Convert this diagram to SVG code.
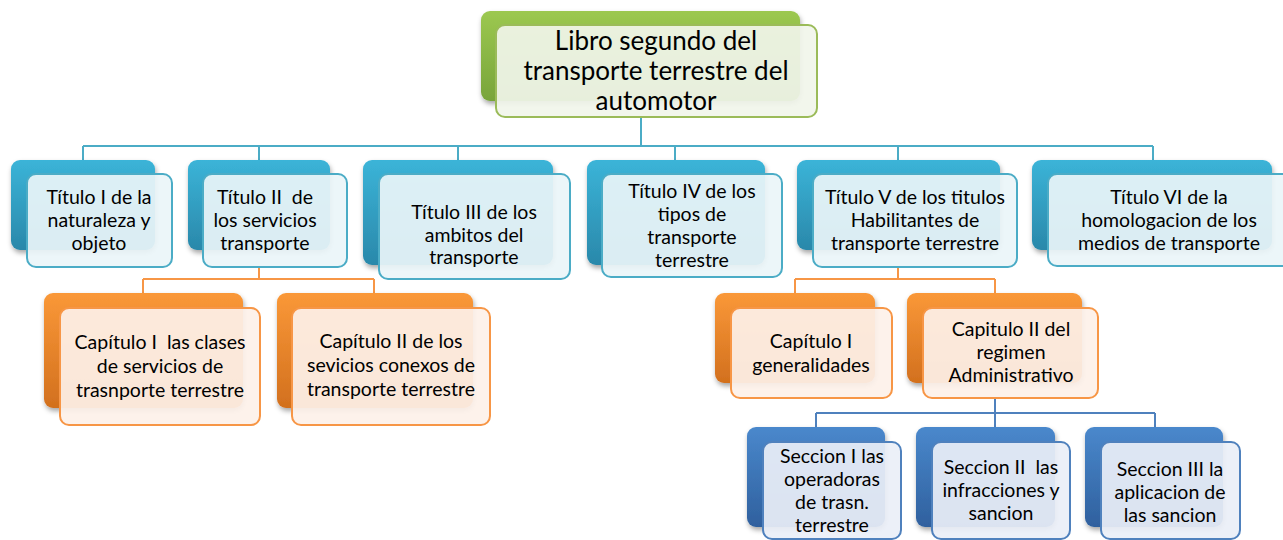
<svg xmlns="http://www.w3.org/2000/svg" width="1283" height="540" viewBox="0 0 1283 540">
<style>
  .t { font-family: Lato, "Liberation Sans", sans-serif; font-size: 19.5px; fill: #000; text-anchor: middle; white-space: pre; }
  .big { font-size: 26px; }
  .cb { fill: none; stroke: #4BACC6; stroke-width: 2; }
  .co { fill: none; stroke: #F79646; stroke-width: 2; }
  .cd { fill: none; stroke: #4F81BD; stroke-width: 2; }
  .bg { fill: url(#gGreen); filter: url(#sh); }
  .bb { fill: url(#gBlue); filter: url(#sh); }
  .bo { fill: url(#gOrange); filter: url(#sh); }
  .bd { fill: url(#gDark); filter: url(#sh); }
  .fg { fill: #F1F5EA; fill-opacity: 0.92; stroke: #9BBB59; stroke-width: 2; }
  .fb { fill: #EAF5F9; fill-opacity: 0.92; stroke: #4BACC6; stroke-width: 2; }
  .fo { fill: #FDF1E9; fill-opacity: 0.92; stroke: #F79646; stroke-width: 2; }
  .fd { fill: #EAEFF7; fill-opacity: 0.92; stroke: #4F81BD; stroke-width: 2; }
</style>
<defs>
  <linearGradient id="gGreen" x1="0" y1="0" x2="0" y2="1">
    <stop offset="0" stop-color="#9CC850"/><stop offset="1" stop-color="#78A43A"/>
  </linearGradient>
  <linearGradient id="gBlue" x1="0" y1="0" x2="0" y2="1">
    <stop offset="0" stop-color="#3BB4D8"/><stop offset="1" stop-color="#2A88AA"/>
  </linearGradient>
  <linearGradient id="gOrange" x1="0" y1="0" x2="0" y2="1">
    <stop offset="0" stop-color="#FA9838"/><stop offset="1" stop-color="#D2701E"/>
  </linearGradient>
  <linearGradient id="gDark" x1="0" y1="0" x2="0" y2="1">
    <stop offset="0" stop-color="#4A88CC"/><stop offset="1" stop-color="#2F609E"/>
  </linearGradient>
  <filter id="sh" x="-10%" y="-10%" width="130%" height="140%">
    <feDropShadow dx="1" dy="3" stdDeviation="2.5" flood-color="#000" flood-opacity="0.35"/>
  </filter>
</defs>

<g id="connectors">
  <path class="cb" d="M641 117 V146 M83 146 H1153 M83 146 V160 M259 146 V160 M458 146 V160 M675 146 V160 M898 146 V160 M1153 146 V160"/>
  <path class="co" d="M259 267 V279 M143 279 H374 M143 279 V293 M374 279 V293"/>
  <path class="co" d="M898 267 V279 M795 279 H995 M795 279 V293 M995 279 V293"/>
  <path class="cd" d="M995 398 V413 M816 413 H1155 M816 413 V427 M995 413 V427 M1155 413 V427"/>
</g>

<g id="root">
  <rect class="bg" x="481" y="11" width="319" height="90" rx="9"/>
  <rect class="fg" x="496" y="25" width="321" height="92" rx="9"/>
  <text class="t big" x="656" y="50">Libro segundo del</text>
  <text class="t big" x="656" y="80">transporte terrestre del</text>
  <text class="t big" x="656" y="110">automotor</text>
</g>

<g id="titulo1">
  <rect class="bb" x="11" y="160" width="144" height="90" rx="9"/>
  <rect class="fb" x="27" y="174" width="145" height="93" rx="9"/>
  <text class="t" x="99" y="204">Título I de la</text>
  <text class="t" x="99" y="227">naturaleza y</text>
  <text class="t" x="99" y="250">objeto</text>
</g>

<g id="titulo2">
  <rect class="bb" x="188" y="160" width="142" height="90" rx="9"/>
  <rect class="fb" x="203" y="174" width="144" height="93" rx="9"/>
  <text class="t" x="265" y="204">Título II  de</text>
  <text class="t" x="265" y="227">los servicios</text>
  <text class="t" x="265" y="250">transporte</text>
</g>

<g id="titulo3">
  <rect class="bb" x="363" y="160" width="190" height="105" rx="9"/>
  <rect class="fb" x="379" y="174" width="191" height="105" rx="9"/>
  <text class="t" x="474" y="219">Título III de los</text>
  <text class="t" x="474" y="242">ambitos del</text>
  <text class="t" x="474" y="264">transporte</text>
</g>

<g id="titulo4">
  <rect class="bb" x="587" y="160" width="178" height="105" rx="9"/>
  <rect class="fb" x="602" y="174" width="180" height="103" rx="9"/>
  <text class="t" x="692" y="198">Título IV de los</text>
  <text class="t" x="692" y="221">tipos de</text>
  <text class="t" x="692" y="244">transporte</text>
  <text class="t" x="692" y="267">terrestre</text>
</g>

<g id="titulo5">
  <rect class="bb" x="797" y="160" width="203" height="90" rx="9"/>
  <rect class="fb" x="813" y="174" width="204" height="93" rx="9"/>
  <text class="t" x="915" y="204">Título V de los titulos</text>
  <text class="t" x="915" y="227">Habilitantes de</text>
  <text class="t" x="915" y="250">transporte terrestre</text>
</g>

<g id="titulo6">
  <rect class="bb" x="1032" y="160" width="240" height="90" rx="9"/>
  <rect class="fb" x="1048" y="174" width="245" height="92" rx="9"/>
  <text class="t" x="1169" y="204">Título VI de la</text>
  <text class="t" x="1169" y="227">homologacion de los</text>
  <text class="t" x="1169" y="250">medios de transporte</text>
</g>

<g id="capitulo1-t2">
  <rect class="bo" x="44" y="293" width="199" height="115" rx="9"/>
  <rect class="fo" x="60" y="308" width="200" height="117" rx="9"/>
  <text class="t" x="160" y="349">Capítulo I  las clases</text>
  <text class="t" x="160" y="373">de servicios de</text>
  <text class="t" x="160" y="397">trasnporte terrestre</text>
</g>

<g id="capitulo2-t2">
  <rect class="bo" x="277" y="293" width="196" height="115" rx="9"/>
  <rect class="fo" x="292" y="308" width="198" height="117" rx="9"/>
  <text class="t" x="391" y="348">Capítulo II de los</text>
  <text class="t" x="391" y="372">sevicios conexos de</text>
  <text class="t" x="391" y="396">transporte terrestre</text>
</g>

<g id="capitulo1-t5">
  <rect class="bo" x="715" y="293" width="160" height="90" rx="9"/>
  <rect class="fo" x="731" y="308" width="161" height="90" rx="9"/>
  <text class="t" x="811" y="348">Capítulo I</text>
  <text class="t" x="811" y="372">generalidades</text>
</g>

<g id="capitulo2-t5">
  <rect class="bo" x="907" y="293" width="175" height="90" rx="9"/>
  <rect class="fo" x="923" y="308" width="175" height="90" rx="9"/>
  <text class="t" x="1011" y="336">Capitulo II del</text>
  <text class="t" x="1011" y="359">regimen</text>
  <text class="t" x="1011" y="382">Administrativo</text>
</g>

<g id="seccion1">
  <rect class="bd" x="747" y="427" width="138" height="100" rx="9"/>
  <rect class="fd" x="763" y="442" width="138" height="97" rx="9"/>
  <text class="t" x="832" y="463">Seccion I las</text>
  <text class="t" x="832" y="486">operadoras</text>
  <text class="t" x="832" y="509">de trasn.</text>
  <text class="t" x="832" y="532">terrestre</text>
</g>

<g id="seccion2">
  <rect class="bd" x="916" y="427" width="139" height="100" rx="9"/>
  <rect class="fd" x="932" y="442" width="138" height="97" rx="9"/>
  <text class="t" x="1001" y="474">Seccion II  las</text>
  <text class="t" x="1001" y="497">infracciones y</text>
  <text class="t" x="1001" y="520">sancion</text>
</g>

<g id="seccion3">
  <rect class="bd" x="1085" y="427" width="138" height="100" rx="9"/>
  <rect class="fd" x="1101" y="442" width="139" height="97" rx="9"/>
  <text class="t" x="1170" y="476">Seccion III la</text>
  <text class="t" x="1170" y="499">aplicacion de</text>
  <text class="t" x="1170" y="522">las sancion</text>
</g>
</svg>
